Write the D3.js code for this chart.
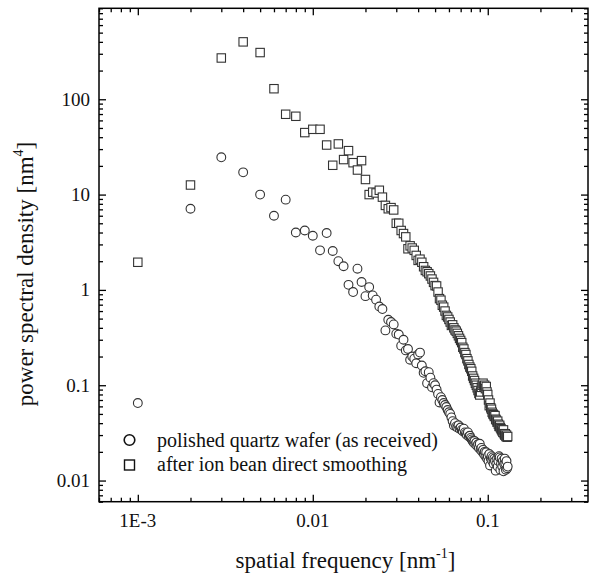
<!DOCTYPE html>
<html><head><meta charset="utf-8">
<script src="https://cdn.jsdelivr.net/npm/d3@7"></script>
<style>
html,body{margin:0;padding:0;background:#fff;}
svg{display:block;}
svg text{font-family:'Liberation Serif','Times New Roman','DejaVu Serif',serif;}
</style></head>
<body>
<svg id="c" width="592" height="579"></svg>
<script>
// spatial frequency index k -> f = k * 1E-3 nm^-1
const freqIndex = d3.range(1, 131);
const asReceived = [
 0.065,7.1,24.6,17.1,10.0,6.0,8.85,4.0,4.2,3.7,
 2.6,3.95,2.56,2.0,1.77,1.13,0.95,1.67,1.21,0.86,
 1.07,0.875,0.79,0.67,0.63,0.376,0.486,0.46,0.434,0.347,
 0.34,0.26,0.30,0.232,0.24,0.185,0.2,0.19,0.17,0.21,
 0.22,0.161,0.135,0.14,0.105,0.137,0.12,0.095,0.105,0.1,
 0.09,0.081,0.066,0.075,0.07,0.065,0.062,0.059,0.055,0.052,
 0.05,0.046,0.042,0.0378,0.04,0.037,0.036,0.038,0.035,0.036,
 0.034,0.033,0.035,0.032,0.031,0.03,0.032,0.029,0.0295,0.028,
 0.027,0.026,0.025,0.026,0.024,0.025,0.023,0.024,0.022,0.0243,
 0.021,0.022,0.02,0.021,0.019,0.02,0.018,0.0198,0.017,0.018,
 0.016,0.019,0.0144,0.017,0.018,0.016,0.0175,0.015,0.017,0.016,
 0.0127,0.015,0.017,0.014,0.016,0.018,0.0175,0.013,0.015,0.017,
 0.014,0.016,0.0125,0.015,0.017,0.0151,0.013,0.016,0.0135,0.014
];
const afterSmoothing = [
 1.95,12.6,271,400,309,129,69.6,66.3,44.7,48.4,
 48.4,33.1,20.3,34.0,23.3,28.9,21.6,18.1,22.7,14.4,
 10.0,10.6,10.4,11.1,9.4,7.7,7.1,7.3,6.9,5.0,
 5.0,4.2,3.9,3.6,2.7,2.9,2.75,2.6,2.3,2.04,
 2.1,1.95,1.75,1.6,1.55,1.48,1.4,1.3,1.2,1.11,
 1.1,0.95,0.81,0.78,0.69,0.66,0.6,0.54,0.52,0.49,
 0.46,0.424,0.43,0.40,0.38,0.369,0.35,0.33,0.31,0.295,
 0.28,0.25,0.24,0.22,0.21,0.19,0.18,0.165,0.155,0.149,
 0.14,0.125,0.118,0.112,0.105,0.1,0.094,0.088,0.082,0.079,
 0.085,0.095,0.1,0.105,0.098,0.1,0.092,0.097,0.085,0.08,
 0.07,0.061,0.065,0.058,0.056,0.052,0.05,0.049,0.047,0.048,
 0.044,0.043,0.041,0.042,0.039,0.037,0.038,0.036,0.035,0.034,
 0.033,0.032,0.034,0.031,0.030,0.031,0.029,0.030,0.0285,0.029
];
const xTickValues = [0.001, 0.01, 0.1];
const xTickLabels = ["1E-3", "0.01", "0.1"];
const yTickValues = [0.01, 0.1, 1, 10, 100];
const yTickLabels = ["0.01", "0.1", "1", "10", "100"];
const legendLabels = ["polished quartz wafer (as received)", "after ion bean direct smoothing"];

const FONT = "'Liberation Serif','Times New Roman','DejaVu Serif',serif";
const svg = d3.select("#c");
const L = 99, R = 588, T = 8.3, B = 501.7;
const x = d3.scaleLog().domain([0.0006, 0.374]).range([L, R]);
const y = d3.scaleLog().domain([0.006, 900]).range([B, T]);

const xMinor = [], yMinor = [];
[0.0001,0.001,0.01,0.1].forEach(d => { for (let m=2;m<=9;m++){ const v=d*m; if (v>=0.0006 && v<=0.374) xMinor.push(v);} });
[0.001,0.01,0.1,1,10,100].forEach(d => { for (let m=2;m<=9;m++){ const v=d*m; if (v>=0.006 && v<=900) yMinor.push(v);} });

function styleAxis(g){ g.select(".domain").remove(); g.selectAll("line").attr("stroke","#000").attr("stroke-width",1.3); g.selectAll("text").remove(); }

svg.append("g").attr("transform",`translate(0,${B})`).call(d3.axisBottom(x).tickValues(xTickValues).tickSize(-7)).call(styleAxis);
svg.append("g").attr("transform",`translate(0,${B})`).call(d3.axisBottom(x).tickValues(xMinor).tickSize(-4)).call(styleAxis);
svg.append("g").attr("transform",`translate(0,${T})`).call(d3.axisTop(x).tickValues(xTickValues).tickSize(-7)).call(styleAxis);
svg.append("g").attr("transform",`translate(0,${T})`).call(d3.axisTop(x).tickValues(xMinor).tickSize(-4)).call(styleAxis);
svg.append("g").attr("transform",`translate(${L},0)`).call(d3.axisLeft(y).tickValues(yTickValues).tickSize(-7)).call(styleAxis);
svg.append("g").attr("transform",`translate(${L},0)`).call(d3.axisLeft(y).tickValues(yMinor).tickSize(-4)).call(styleAxis);
svg.append("g").attr("transform",`translate(${R},0)`).call(d3.axisRight(y).tickValues(yTickValues).tickSize(-7)).call(styleAxis);
svg.append("g").attr("transform",`translate(${R},0)`).call(d3.axisRight(y).tickValues(yMinor).tickSize(-4)).call(styleAxis);

svg.append("rect").attr("x",L).attr("y",T).attr("width",R-L).attr("height",B-T)
  .attr("fill","none").attr("stroke","#000").attr("stroke-width",1.5);

svg.append("g").selectAll("text").data(xTickValues).join("text")
  .attr("font-family",FONT)
  .attr("x",d=>x(d)).attr("y",B+25).attr("text-anchor","middle")
  .attr("font-size",19).attr("fill","#111").text((d,i)=>xTickLabels[i]);
svg.append("g").selectAll("text").data(yTickValues).join("text")
  .attr("font-family",FONT)
  .attr("x",L-9).attr("y",d=>y(d)+6.5).attr("text-anchor","end")
  .attr("font-size",19).attr("fill","#111").text((d,i)=>yTickLabels[i]);

const xt = svg.append("text").attr("font-family",FONT).attr("x",(L+R)/2+2).attr("y",568).attr("text-anchor","middle")
  .attr("font-size",23).attr("fill","#111");
xt.append("tspan").text("spatial frequency [nm");
xt.append("tspan").attr("font-size",14).attr("dy",-10).text("-1");
xt.append("tspan").attr("dy",10).text("]");

const yt = svg.append("text").attr("font-family",FONT).attr("transform",`translate(33,274) rotate(-90)`).attr("text-anchor","middle")
  .attr("font-size",23).attr("fill","#111");
yt.append("tspan").text("power spectral density [nm");
yt.append("tspan").attr("font-size",14).attr("dy",-10).text("4");
yt.append("tspan").attr("dy",10).text("]");

const circData = freqIndex.map((k,i)=>({f:k*0.001, v:asReceived[i]}));
const sqData = freqIndex.map((k,i)=>({f:k*0.001, v:afterSmoothing[i]}));
const sw = 1.1, mc = "#333";
svg.append("g").selectAll("circle").data(circData).join("circle")
  .attr("cx",d=>x(d.f)).attr("cy",d=>y(d.v)).attr("r",4.4)
  .attr("fill","#fff").attr("stroke",mc).attr("stroke-width",sw);
const s = 8.4;
svg.append("g").selectAll("rect").data(sqData).join("rect")
  .attr("x",d=>x(d.f)-s/2).attr("y",d=>y(d.v)-s/2).attr("width",s).attr("height",s)
  .attr("fill","#fff").attr("stroke",mc).attr("stroke-width",sw);

svg.append("circle").attr("cx",129.5).attr("cy",440).attr("r",5.3)
  .attr("fill","#fff").attr("stroke","#111").attr("stroke-width",1.6);
svg.append("rect").attr("x",124.5).attr("y",460).attr("width",10).attr("height",10)
  .attr("fill","#fff").attr("stroke","#111").attr("stroke-width",1.4);
svg.append("text").attr("font-family",FONT).attr("x",157).attr("y",447).attr("font-size",20).attr("fill","#111").text(legendLabels[0]);
svg.append("text").attr("font-family",FONT).attr("x",157).attr("y",471).attr("font-size",20).attr("fill","#111").text(legendLabels[1]);
</script>
</body></html>
